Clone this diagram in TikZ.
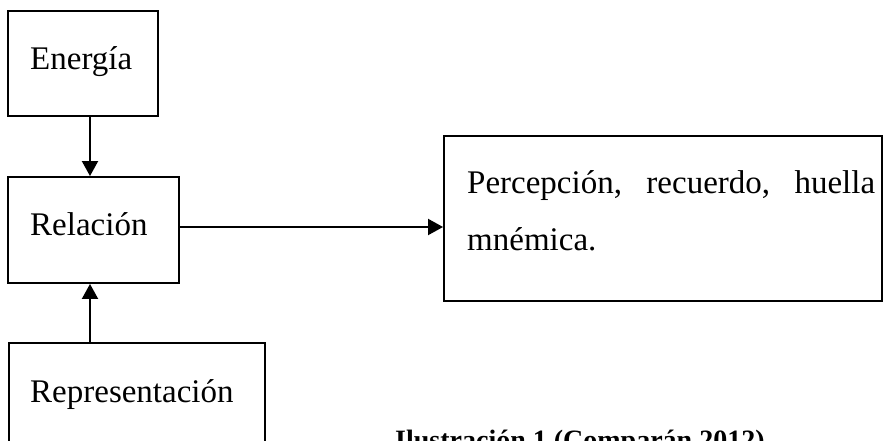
\documentclass[tikz,border=0pt]{standalone}
\usepackage{fontspec}
\setmainfont{Liberation Serif}
\usetikzlibrary{arrows.meta}
\begin{document}
\begin{tikzpicture}[x=1pt,y=-1pt,
  box/.style={draw,line width=1.9pt,rectangle,inner sep=0pt},
  lbl/.style={anchor=base west,inner sep=0pt,font=\fontsize{33}{57}\selectfont},
  arr/.style={line width=1.9pt,-{Triangle[length=15pt,width=16pt]}}]
\useasboundingbox (0,0) rectangle (884,441);
\clip (0,0) rectangle (884,441);
\node[box,minimum width=150pt,minimum height=105pt] (E) at (83,63.5) {};
\node[box,minimum width=171pt,minimum height=106pt] (R) at (93.5,230) {};
\node[box,minimum width=256pt,minimum height=114pt] (Rep) at (137,400) {};
\node[box,minimum width=438pt,minimum height=165pt] (P) at (663,218.5) {};
\node[lbl] (tE) at (30,70) {Energía};
\node[lbl] (tR) at (30,235) {Relación};
\node[lbl] (tRep) at (30,402) {Representación};
\node[lbl,align=left] (tP) at (467,250) {\makebox[408pt][s]{Percepción, recuerdo, huella}\\mnémica.};
\node[anchor=base west,inner sep=0pt,font=\fontsize{28}{34}\selectfont\bfseries] (cap) at (395,449) {Ilustración 1 (Comparán 2012)};
\draw[arr] (90,0 |- E.south) -- (90,0 |- R.north);
\draw[arr] (90,0 |- Rep.north) -- (90,0 |- R.south);
\draw[arr] (R.east |- 0,227) -- (P.west |- 0,227);
\end{tikzpicture}
\end{document}
